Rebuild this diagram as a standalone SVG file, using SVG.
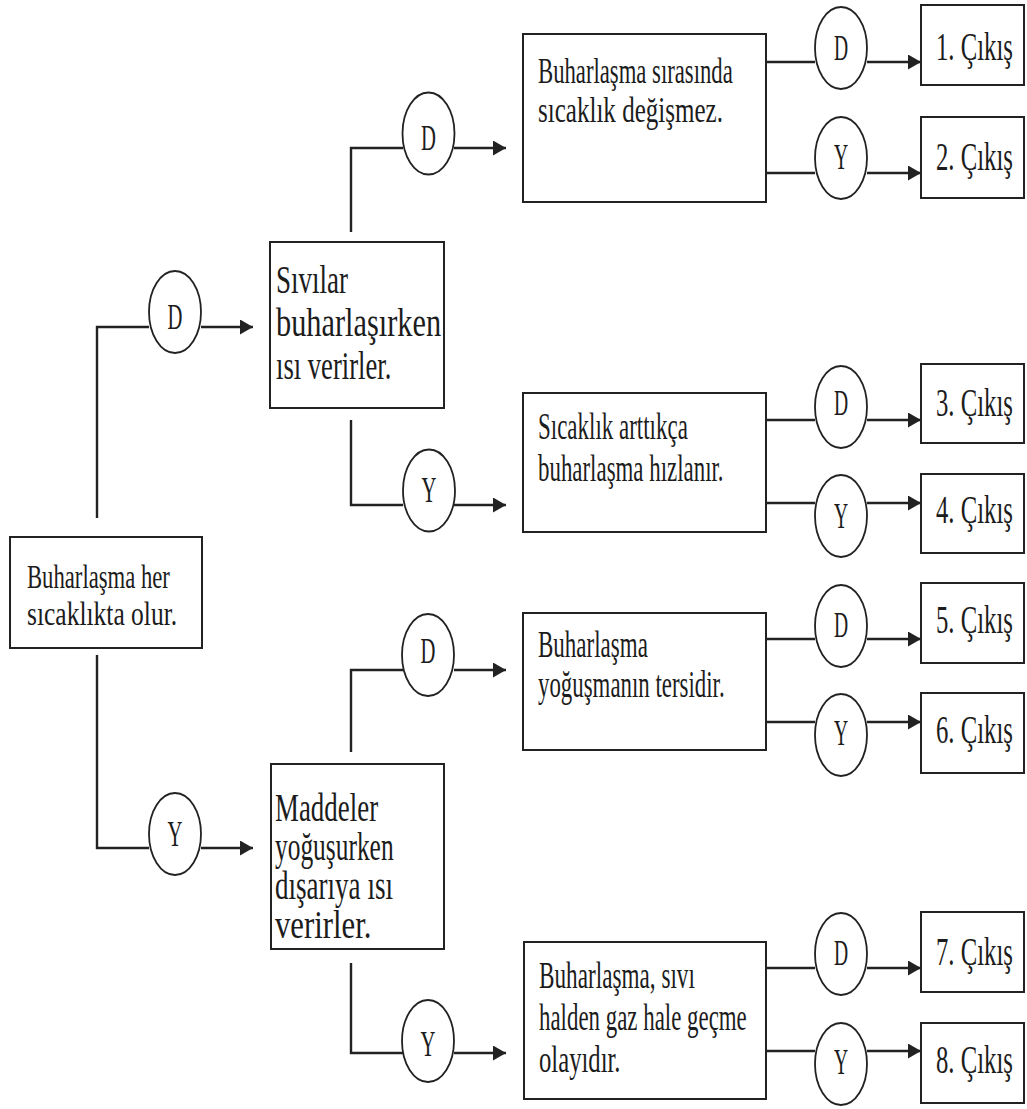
<svg xmlns="http://www.w3.org/2000/svg" width="1027" height="1109" viewBox="0 0 1027 1109">
<style>
.box{fill:#fff;stroke:#222;stroke-width:2}
.circ{fill:#fff;stroke:#222;stroke-width:1.8}
.t{font-family:"Liberation Serif","Times New Roman",serif;fill:#1c1c1c}
.s34{font-size:34px}
.s36{font-size:36px}
.s37{font-size:37px}
.s39{font-size:39px}
.c{font-family:"Liberation Serif","Times New Roman",serif;font-size:35px;fill:#1c1c1c;text-anchor:middle}
.ln{fill:none;stroke:#222;stroke-width:2.4}
</style>
<defs>
<marker id="ah" markerUnits="userSpaceOnUse" markerWidth="14" markerHeight="15" refX="13" refY="7.5" orient="auto">
<path d="M0,0 L13,7.5 L0,15 z" fill="#222"/>
</marker>
</defs>
<rect width="1027" height="1109" fill="#fff"/>

<g id="connectors">
<path class="ln" d="M97,518 V327 H149"/>
<path class="ln" d="M201,327 H253" marker-end="url(#ah)"/>
<path class="ln" d="M97,655 V848 H149"/>
<path class="ln" d="M201,848 H253" marker-end="url(#ah)"/>
<path class="ln" d="M351,232 V148 H403"/>
<path class="ln" d="M454,148 H506" marker-end="url(#ah)"/>
<path class="ln" d="M351,420 V505 H403"/>
<path class="ln" d="M454,505 H506" marker-end="url(#ah)"/>
<path class="ln" d="M351,752 V670 H403"/>
<path class="ln" d="M454,670 H506" marker-end="url(#ah)"/>
<path class="ln" d="M351,963 V1053 H403"/>
<path class="ln" d="M454,1053 H506" marker-end="url(#ah)"/>
<path class="ln" d="M766,62 H815"/>
<path class="ln" d="M867,62 H921" marker-end="url(#ah)"/>
<path class="ln" d="M766,173 H815"/>
<path class="ln" d="M867,173 H921" marker-end="url(#ah)"/>
<path class="ln" d="M766,420 H815"/>
<path class="ln" d="M867,420 H921" marker-end="url(#ah)"/>
<path class="ln" d="M766,503 H815"/>
<path class="ln" d="M867,503 H921" marker-end="url(#ah)"/>
<path class="ln" d="M766,639 H815"/>
<path class="ln" d="M867,639 H921" marker-end="url(#ah)"/>
<path class="ln" d="M766,722 H815"/>
<path class="ln" d="M867,722 H921" marker-end="url(#ah)"/>
<path class="ln" d="M766,968 H815"/>
<path class="ln" d="M867,968 H921" marker-end="url(#ah)"/>
<path class="ln" d="M766,1051 H815"/>
<path class="ln" d="M867,1051 H921" marker-end="url(#ah)"/>
</g>

<g id="n-root">
<rect class="box" x="10" y="537" width="192" height="111"/>
<text class="t s34" transform="translate(27,588) scale(0.667,1)">Buharlaşma her</text>
<text class="t s34" transform="translate(27,625) scale(0.75,1)">sıcaklıkta olur.</text>
</g>

<g id="c-root-d"><ellipse class="circ" cx="175" cy="312" rx="26" ry="41"/><text class="c" transform="translate(175,328.5) scale(0.59,1)">D</text></g>
<g id="c-root-y"><ellipse class="circ" cx="175" cy="834" rx="26" ry="41"/><text class="c" transform="translate(175,846) scale(0.59,1)">Y</text></g>

<g id="n-sivilar">
<rect class="box" x="270" y="242" width="174" height="166"/>
<text class="t s39" transform="translate(276,293) scale(0.693,1)">Sıvılar</text>
<text class="t s39" transform="translate(276,336) scale(0.778,1)">buharlaşırken</text>
<text class="t s39" transform="translate(276,379) scale(0.683,1)">ısı verirler.</text>
</g>

<g id="n-maddeler">
<rect class="box" x="271" y="764" width="173" height="185"/>
<text class="t s39" transform="translate(275,821) scale(0.69,1)">Maddeler</text>
<text class="t s39" transform="translate(275,860) scale(0.652,1)">yoğuşurken</text>
<text class="t s39" transform="translate(275,899) scale(0.694,1)">dışarıya ısı</text>
<text class="t s39" transform="translate(275,938) scale(0.788,1)">verirler.</text>
</g>

<g id="c-m1-d"><ellipse class="circ" cx="428.5" cy="133.5" rx="26" ry="41"/><text class="c" transform="translate(428.5,149.5) scale(0.59,1)">D</text></g>
<g id="c-m1-y"><ellipse class="circ" cx="429" cy="490.5" rx="26" ry="41"/><text class="c" transform="translate(429,501.5) scale(0.59,1)">Y</text></g>
<g id="c-m2-d"><ellipse class="circ" cx="428" cy="655" rx="26" ry="41"/><text class="c" transform="translate(428,663) scale(0.59,1)">D</text></g>
<g id="c-m2-y"><ellipse class="circ" cx="428" cy="1041" rx="26" ry="41"/><text class="c" transform="translate(428,1056) scale(0.59,1)">Y</text></g>

<g id="n-q1">
<rect class="box" x="523" y="34" width="243" height="168"/>
<text class="t s36" transform="translate(538,83) scale(0.631,1)">Buharlaşma sırasında</text>
<text class="t s36" transform="translate(538,122) scale(0.696,1)">sıcaklık değişmez.</text>
</g>
<g id="n-q2">
<rect class="box" x="523" y="393" width="243" height="139"/>
<text class="t s37" transform="translate(538,439) scale(0.621,1)">Sıcaklık arttıkça</text>
<text class="t s37" transform="translate(538,481) scale(0.619,1)">buharlaşma hızlanır.</text>
</g>
<g id="n-q3">
<rect class="box" x="523" y="613" width="243" height="137"/>
<text class="t s37" transform="translate(538,657) scale(0.622,1)">Buharlaşma</text>
<text class="t s37" transform="translate(538,697) scale(0.618,1)">yoğuşmanın tersidir.</text>
</g>
<g id="n-q4">
<rect class="box" x="524" y="942" width="242" height="157"/>
<text class="t s37" transform="translate(539,988) scale(0.627,1)">Buharlaşma, sıvı</text>
<text class="t s37" transform="translate(539,1030) scale(0.619,1)">halden gaz hale geçme</text>
<text class="t s37" transform="translate(539,1072) scale(0.667,1)">olayıdır.</text>
</g>

<g id="c-r1-d"><ellipse class="circ" cx="841" cy="48" rx="26" ry="41"/><text class="c" transform="translate(841,59.5) scale(0.56,1)">D</text></g>
<g id="c-r1-y"><ellipse class="circ" cx="841" cy="158" rx="26" ry="41"/><text class="c" transform="translate(841,168.5) scale(0.56,1)">Y</text></g>
<g id="c-r2-d"><ellipse class="circ" cx="841" cy="407" rx="26" ry="41"/><text class="c" transform="translate(841,414.5) scale(0.56,1)">D</text></g>
<g id="c-r2-y"><ellipse class="circ" cx="841" cy="516" rx="26" ry="41"/><text class="c" transform="translate(841,528) scale(0.56,1)">Y</text></g>
<g id="c-r3-d"><ellipse class="circ" cx="841" cy="626" rx="26" ry="41"/><text class="c" transform="translate(841,636.5) scale(0.56,1)">D</text></g>
<g id="c-r3-y"><ellipse class="circ" cx="841" cy="735" rx="26" ry="41"/><text class="c" transform="translate(841,744.5) scale(0.56,1)">Y</text></g>
<g id="c-r4-d"><ellipse class="circ" cx="841" cy="954" rx="26" ry="41"/><text class="c" transform="translate(841,964.5) scale(0.56,1)">D</text></g>
<g id="c-r4-y"><ellipse class="circ" cx="841" cy="1064" rx="26" ry="41"/><text class="c" transform="translate(841,1073.5) scale(0.56,1)">Y</text></g>

<g id="out-1"><rect class="box" x="921" y="5" width="103" height="80"/><text class="t s39" transform="translate(936,60) scale(0.634,1)">1. Çıkış</text></g>
<g id="out-2"><rect class="box" x="921" y="117" width="103" height="81"/><text class="t s39" transform="translate(936,170) scale(0.634,1)">2. Çıkış</text></g>
<g id="out-3"><rect class="box" x="921" y="364" width="103" height="79"/><text class="t s39" transform="translate(936,416) scale(0.634,1)">3. Çıkış</text></g>
<g id="out-4"><rect class="box" x="921" y="474" width="103" height="79"/><text class="t s39" transform="translate(936,523) scale(0.634,1)">4. Çıkış</text></g>
<g id="out-5"><rect class="box" x="921" y="583" width="103" height="80"/><text class="t s39" transform="translate(936,633) scale(0.634,1)">5. Çıkış</text></g>
<g id="out-6"><rect class="box" x="921" y="693" width="103" height="80"/><text class="t s39" transform="translate(936,743) scale(0.634,1)">6. Çıkış</text></g>
<g id="out-7"><rect class="box" x="921" y="912" width="103" height="80"/><text class="t s39" transform="translate(936,965) scale(0.634,1)">7. Çıkış</text></g>
<g id="out-8"><rect class="box" x="921" y="1023" width="103" height="80"/><text class="t s39" transform="translate(936,1073) scale(0.634,1)">8. Çıkış</text></g>
</svg>
